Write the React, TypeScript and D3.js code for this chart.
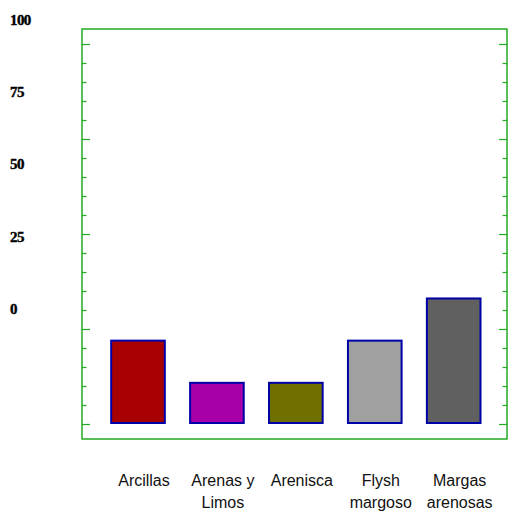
import React from "react";
import * as d3 from "d3";

const categories = ["Arcillas", "Arenas y Limos", "Arenisca", "Flysh margoso", "Margas arenosas"];
const categoryLines = [["Arcillas"], ["Arenas y", "Limos"], ["Arenisca"], ["Flysh", "margoso"], ["Margas", "arenosas"]];
const values = [22.2, 11.1, 11.1, 22.2, 33.3];
const colors = ["#a80000", "#a800a8", "#707000", "#a0a0a0", "#606060"];
const yTickLabels = [0, 25, 50, 75, 100];

const W = 508;
const H = 511;
const frame = { left: 82, top: 29, right: 507, bottom: 439 };
const green = "#22aa22";

export default function App() {
  const y = d3.scaleLinear().domain([0, 100]).range([424, 44]);
  const yLabel = d3.scaleLinear().domain([0, 100]).range([314, 24.7]);
  const x = d3
    .scaleBand<string>()
    .domain(categories)
    .range([frame.left, frame.right])
    .paddingInner(0.295)
    .paddingOuter(0.34)
    .align(0.525);
  const minor = d3.range(0, 101, 5);
  const bw = x.bandwidth();

  return (
    <svg
      width={W}
      height={H}
      style={{ position: "absolute", left: 0, top: 0, background: "#fff" }}
    >
      <rect x={0} y={0} width={W} height={H} fill="#fff" />
      {/* frame */}
      <rect
        x={frame.left}
        y={frame.top}
        width={frame.right - frame.left}
        height={frame.bottom - frame.top}
        fill="none"
        stroke={green}
        strokeWidth={1.5}
      />
      {/* ticks */}
      {minor.map((v) => {
        const major = v % 25 === 0;
        const len = major ? 8 : 4.5;
        const yy = Math.round(y(v)) + 0.5;
        return (
          <g key={v}>
            <line x1={frame.left} x2={frame.left + len} y1={yy} y2={yy} stroke={green} strokeWidth={1.2} />
            <line x1={frame.right - len} x2={frame.right} y1={yy} y2={yy} stroke={green} strokeWidth={1.2} />
          </g>
        );
      })}
      {/* y labels */}
      {yTickLabels.map((v) => (
        <text
          key={v}
          x={10}
          y={yLabel(v)}
          fontFamily="'Liberation Serif', 'DejaVu Serif', serif"
          fontWeight="bold"
          fontSize={15}
          letterSpacing={-0.6}
          fill="#000"
          stroke="#000"
          strokeWidth={0.4}
        >
          {v}
        </text>
      ))}
      {/* bars */}
      {categories.map((c, i) => (
        <rect
          key={c}
          x={(x(c) as number) + 1}
          y={y(values[i]) + 1}
          width={bw - 2}
          height={y(0) - y(values[i]) - 2}
          fill={colors[i]}
          stroke="#0000a8"
          strokeWidth={2}
        />
      ))}
      {/* category labels */}
      {categories.map((c, i) => (
        <text
          key={c}
          textAnchor="middle"
          fontFamily="'Liberation Sans', Arial, sans-serif"
          fontSize={16}
          fill="#111"
        >
          {categoryLines[i].map((ln, j) => (
            <tspan key={j} x={(x(c) as number) + bw / 2 + 6} y={486 + j * 21.7}>
              {ln}
            </tspan>
          ))}
        </text>
      ))}
    </svg>
  );
}
